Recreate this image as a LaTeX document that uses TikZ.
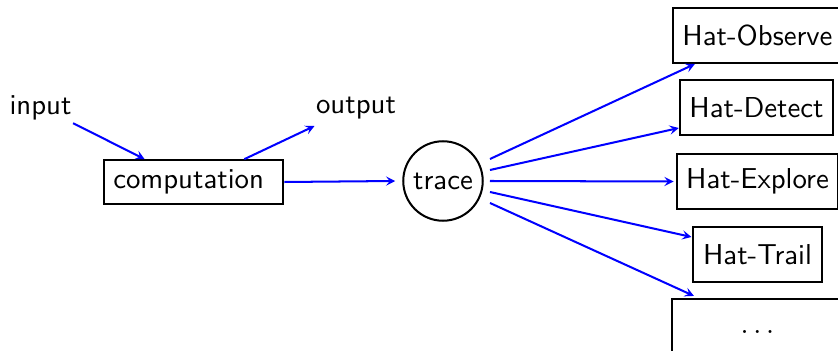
\documentclass[tikz,border=0pt]{standalone}
\usetikzlibrary{calc,arrows.meta}
\begin{document}
\begin{tikzpicture}[x=0.3472pt,y=-0.3472pt, font=\sffamily,
  box/.style={draw, line width=0.7pt, minimum height=19.1pt},
  arr/.style={draw=blue, line width=0.7pt, -{Stealth[length=3.2pt,width=3.2pt,inset=1.3pt]}}]
\useasboundingbox (0,0) rectangle (838,351);
\clip (0,0) rectangle (838,351);
\node[inner sep=0] (in) at (40.5,108) {input};
\node[inner sep=0] (out) at (356,108) {output};
\node[draw, line width=0.7pt] (comp) at (193.5,182) {computation\kern3.4pt};
\node[draw, circle, line width=0.7pt, minimum size=27.6pt, inner sep=0] (trace) at (443,181) {trace};
\node[box] (obs) at (757.5,35.5) {Hat-Observe};
\node[box] (det) at (756.5,107.5) {Hat-Detect};
\node[box] (exp) at (757.5,181.5) {Hat-Explore};
\node[box] (trail) at (757.5,254.5) {Hat-Trail};
\node[box, minimum width=59.4pt, minimum height=22.6pt] (dots) at (757.5,331.5) {$\ldots$};
\draw[arr] ($(in.south east)+(1,2.4)$) -- ($(comp.north west)+(42,0)$);
\draw[arr] ($(comp.north east)+(-40,0)$) -- ($(out.south west)+(-1,6.4)$);
\draw[arr] (comp.east) -- ($(trace.west)+(-7,0)$);
\draw[arr] ($(trace.center)+(47,-22)$) -- ($(obs.south west)+(23,0)$);
\draw[arr] ($(trace.center)+(47,-11)$) -- ($(det.south west)+(0,-8)$);
\draw[arr] ($(trace.center)+(47,0)$) -- ($(exp.west)+(-2,0)$);
\draw[arr] ($(trace.center)+(47,11)$) -- ($(trail.north west)+(-1,11)$);
\draw[arr] ($(trace.center)+(47,22)$) -- ($(dots.north west)+(23,-2)$);
\end{tikzpicture}
\end{document}
